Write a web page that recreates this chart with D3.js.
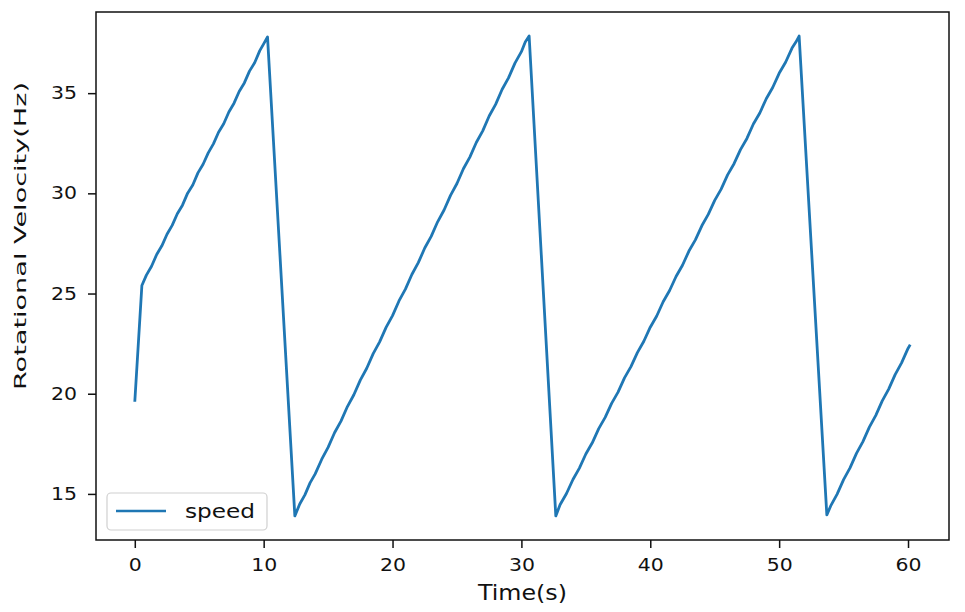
<!DOCTYPE html>
<html>
<head>
<meta charset="utf-8">
<script src="https://cdn.jsdelivr.net/npm/d3@7"></script>
<style>
  body { margin: 0; background: #fff; }
  text { font-family: "DejaVu Sans", sans-serif; fill: #111; }
</style>
</head>
<body>
<div id="chart"></div>
<script>
// time (s) and rotational speed (Hz)
const timeS = [
  0.0, 0.55, 0.9, 1.3, 1.7, 2.1, 2.5, 2.9, 3.3, 3.7, 4.1, 4.5, 4.9, 5.3, 5.7, 6.1, 6.5, 6.9,
  7.3, 7.7, 8.1, 8.5, 8.9, 9.3, 9.7, 10.0, 10.3,
  12.42, 12.8, 13.2, 13.6, 14.0, 14.5, 15.0, 15.5, 16.0, 16.5, 17.0, 17.5, 18.0, 18.5, 19.0,
  19.5, 20.0, 20.5, 21.0, 21.5, 22.0, 22.5, 23.0, 23.5, 24.0, 24.5, 25.0, 25.5, 26.0, 26.5,
  27.0, 27.5, 28.0, 28.5, 29.0, 29.5, 30.0, 30.3, 30.6,
  32.67, 33.0, 33.5, 34.0, 34.5, 35.0, 35.5, 36.0, 36.5, 37.0, 37.5, 38.0, 38.5, 39.0, 39.5,
  40.0, 40.5, 41.0, 41.5, 42.0, 42.5, 43.0, 43.5, 44.0, 44.5, 45.0, 45.5, 46.0, 46.5, 47.0,
  47.5, 48.0, 48.5, 49.0, 49.5, 50.0, 50.5, 51.0, 51.3, 51.55,
  53.7, 54.0, 54.5, 55.0, 55.5, 56.0, 56.5, 57.0, 57.5, 58.0, 58.5, 59.0, 59.5, 60.0, 60.17
];
const speedHz = [
  19.6, 25.40, 25.92, 26.36, 26.95, 27.38, 27.96, 28.40, 28.98, 29.41, 30.01, 30.42, 31.02,
  31.45, 32.02, 32.47, 33.05, 33.47, 34.06, 34.50, 35.08, 35.51, 36.10, 36.52, 37.12, 37.46, 37.80,
  13.90, 14.50, 14.95, 15.55, 16.00, 16.72, 17.32, 18.05, 18.63, 19.36, 19.95, 20.68, 21.27,
  22.00, 22.59, 23.31, 23.90, 24.63, 25.22, 25.95, 26.54, 27.27, 27.85, 28.58, 29.17, 29.90,
  30.49, 31.23, 31.81, 32.54, 33.12, 33.86, 34.44, 35.18, 35.76, 36.50, 37.07, 37.55, 37.85,
  13.90, 14.46, 15.02, 15.72, 16.29, 16.99, 17.55, 18.26, 18.82, 19.52, 20.08, 20.79, 21.35,
  22.05, 22.62, 23.32, 23.88, 24.59, 25.15, 25.85, 26.41, 27.12, 27.68, 28.38, 28.95, 29.65,
  30.21, 30.92, 31.48, 32.18, 32.74, 33.46, 34.01, 34.72, 35.28, 35.99, 36.54, 37.25, 37.55, 37.85,
  13.95, 14.40, 14.99, 15.71, 16.30, 17.02, 17.61, 18.33, 18.92, 19.64, 20.23, 20.95, 21.54,
  22.26, 22.45
];
const xTicks = [0, 10, 20, 30, 40, 50, 60];
const yTicks = [15, 20, 25, 30, 35];
const seriesName = "speed";

const W = 965, H = 612;
const plotLeft = 96, plotTop = 12, plotRight = 949, plotBottom = 540;

const svg = d3.select("#chart").append("svg")
  .attr("width", W).attr("height", H);

const x = d3.scaleLinear().domain([-3.01, 63.18]).range([plotLeft, plotRight]);
const y = d3.scaleLinear().domain([12.7, 39.05]).range([plotBottom, plotTop]);

const data = timeS.map((t, i) => ({ t: t, v: speedHz[i] }));

// line
const line = d3.line().x(d => x(d.t)).y(d => y(d.v));
svg.append("path")
  .datum(data)
  .attr("d", line)
  .attr("fill", "none")
  .attr("stroke", "#1f77b4")
  .attr("stroke-width", 2.8)
  .attr("stroke-linejoin", "round");

// axes
const stretch = function(sel, w) {
  sel.selectAll("text")
    .attr("textLength", function() { return this.textContent.length * w; })
    .attr("lengthAdjust", "spacingAndGlyphs");
};

const gx = svg.append("g")
  .attr("transform", "translate(0," + plotBottom + ")")
  .call(d3.axisBottom(x).tickValues(xTicks).tickSize(8).tickPadding(6));
gx.select(".domain").remove();
gx.selectAll("line").attr("stroke", "#111").attr("stroke-width", 1.5);
gx.selectAll("text").style("font-size", "17.5px").attr("dy", "0.95em");
stretch(gx, 13);

const gy = svg.append("g")
  .attr("transform", "translate(" + plotLeft + ",0)")
  .call(d3.axisLeft(y).tickValues(yTicks).tickSize(8).tickPadding(11));
gy.select(".domain").remove();
gy.selectAll("line").attr("stroke", "#111").attr("stroke-width", 1.5);
gy.selectAll("text").style("font-size", "17.5px");
stretch(gy, 13);

// frame
svg.append("rect")
  .attr("x", plotLeft).attr("y", plotTop)
  .attr("width", plotRight - plotLeft).attr("height", plotBottom - plotTop)
  .attr("fill", "none").attr("stroke", "#111").attr("stroke-width", 1.5);

// axis labels
svg.append("text")
  .attr("x", (plotLeft + plotRight) / 2).attr("y", 600)
  .attr("text-anchor", "middle")
  .style("font-size", "21px")
  .attr("textLength", 89).attr("lengthAdjust", "spacingAndGlyphs")
  .text("Time(s)");

svg.append("text")
  .attr("transform", "translate(26,236) rotate(-90)")
  .attr("text-anchor", "middle")
  .style("font-size", "16px")
  .attr("textLength", 308).attr("lengthAdjust", "spacingAndGlyphs")
  .text("Rotational Velocity(Hz)");

// legend
const lg = svg.append("g");
lg.append("rect")
  .attr("x", 107).attr("y", 493).attr("width", 160).attr("height", 37).attr("rx", 4)
  .attr("fill", "#fff").attr("fill-opacity", 0.8)
  .attr("stroke", "#d0d0d0").attr("stroke-width", 1.2);
lg.append("line")
  .attr("x1", 116).attr("x2", 166).attr("y1", 511).attr("y2", 511)
  .attr("stroke", "#1f77b4").attr("stroke-width", 2.6);
lg.append("text")
  .attr("x", 185).attr("y", 518)
  .style("font-size", "19px")
  .attr("textLength", 70).attr("lengthAdjust", "spacingAndGlyphs")
  .text(seriesName);
</script>
</body>
</html>
